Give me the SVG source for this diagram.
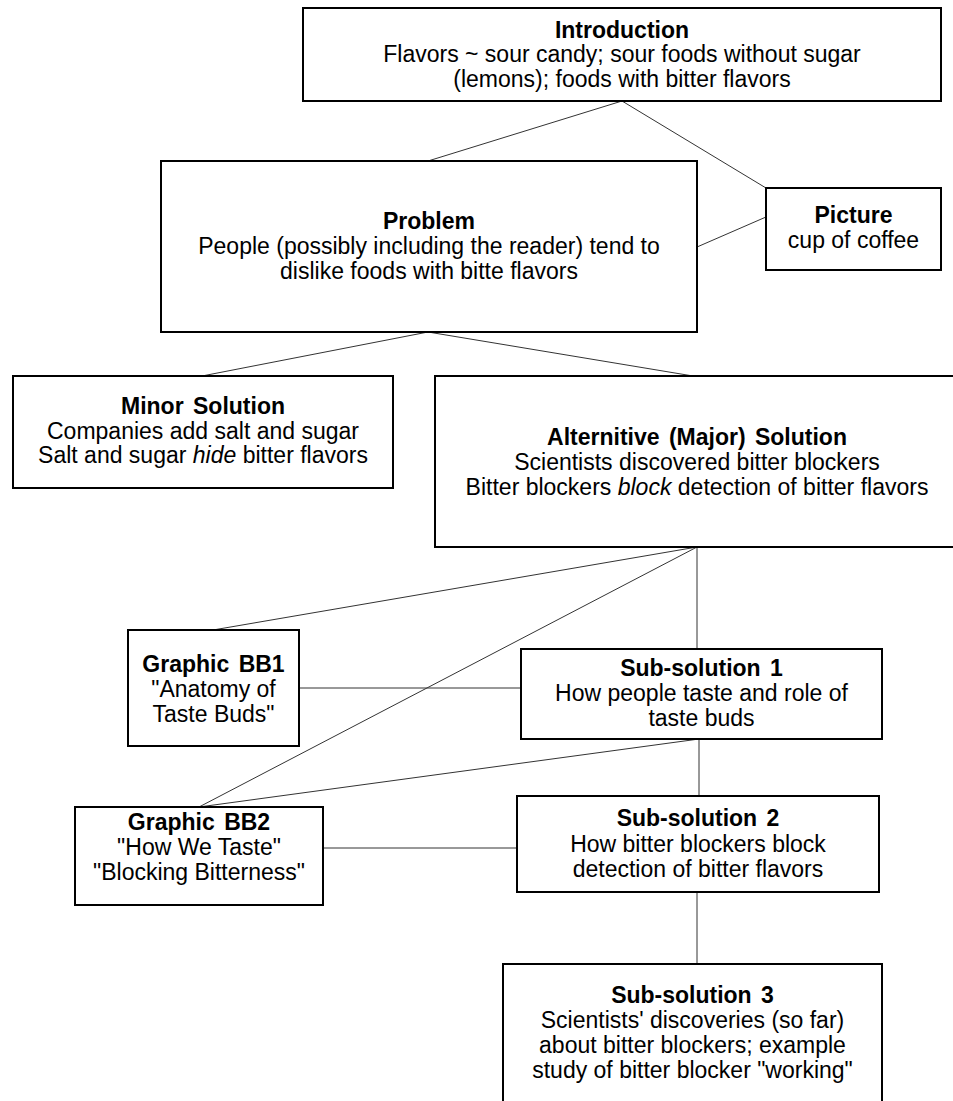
<svg xmlns="http://www.w3.org/2000/svg" width="953" height="1101" viewBox="0 0 953 1101">
  <style>
    .box { fill: #ffffff; stroke: #000000; stroke-width: 2; }
    .t { font-family: "Liberation Sans", Arial, sans-serif; font-size: 23px; fill: #000000; text-anchor: middle; }
    .h { font-weight: bold; word-spacing: 3px; }
    .em { font-style: italic; }
    .link { stroke: #333333; stroke-width: 1; fill: none; }
  </style>
  <rect width="953" height="1101" fill="#ffffff"/>

  <!-- connectors -->
  <g id="connectors">
    <line class="link" x1="622" y1="101" x2="428" y2="161"/>
    <line class="link" x1="622" y1="101" x2="766" y2="188"/>
    <line class="link" x1="697" y1="247" x2="766" y2="217"/>
    <line class="link" x1="428" y1="332" x2="202" y2="376"/>
    <line class="link" x1="428" y1="332" x2="693" y2="376"/>
    <line class="link" x1="697" y1="547" x2="213" y2="630"/>
    <line class="link" x1="697" y1="547" x2="199" y2="807"/>
    <line class="link" x1="697" y1="547" x2="697" y2="649"/>
    <line class="link" x1="299" y1="688" x2="521" y2="688"/>
    <line class="link" x1="699" y1="739" x2="199" y2="807"/>
    <line class="link" x1="699" y1="739" x2="699" y2="796"/>
    <line class="link" x1="323" y1="848" x2="517" y2="848"/>
    <line class="link" x1="697" y1="892" x2="697" y2="964"/>
  </g>

  <g id="introduction">
    <rect class="box" x="303" y="8" width="638" height="93"/>
    <text class="t h" x="622" y="38">Introduction</text>
    <text class="t" x="622" y="62">Flavors ~ sour candy; sour foods without sugar</text>
    <text class="t" x="622" y="87">(lemons); foods with bitter flavors</text>
  </g>

  <g id="problem">
    <rect class="box" x="161" y="161" width="536" height="171"/>
    <text class="t h" x="429" y="229">Problem</text>
    <text class="t" x="429" y="254">People (possibly including the reader) tend to</text>
    <text class="t" x="429" y="279">dislike foods with bitte flavors</text>
  </g>

  <g id="picture">
    <rect class="box" x="766" y="188" width="175" height="82"/>
    <text class="t h" x="853.5" y="223">Picture</text>
    <text class="t" x="853.5" y="248">cup of coffee</text>
  </g>

  <g id="minor-solution">
    <rect class="box" x="13" y="376" width="380" height="112"/>
    <text class="t h" x="203" y="414">Minor Solution</text>
    <text class="t" x="203" y="439">Companies add salt and sugar</text>
    <text class="t" x="203" y="463">Salt and sugar <tspan class="em">hide</tspan> bitter flavors</text>
  </g>

  <g id="major-solution">
    <rect class="box" x="435" y="376" width="530" height="171"/>
    <text class="t h" x="697" y="445">Alternitive (Major) Solution</text>
    <text class="t" x="697" y="470">Scientists discovered bitter blockers</text>
    <text class="t" x="697" y="495">Bitter blockers <tspan class="em">block</tspan> detection of bitter flavors</text>
  </g>

  <g id="graphic-bb1">
    <rect class="box" x="128" y="630" width="171" height="116"/>
    <text class="t h" x="213.5" y="672">Graphic BB1</text>
    <text class="t" x="213.5" y="697">"Anatomy of</text>
    <text class="t" x="213.5" y="722">Taste Buds"</text>
  </g>

  <g id="sub-solution-1">
    <rect class="box" x="521" y="649" width="361" height="90"/>
    <text class="t h" x="701.5" y="676">Sub-solution 1</text>
    <text class="t" x="701.5" y="701">How people taste and role of</text>
    <text class="t" x="701.5" y="726">taste buds</text>
  </g>

  <g id="graphic-bb2">
    <rect class="box" x="75" y="807" width="248" height="98"/>
    <text class="t h" x="199" y="830">Graphic BB2</text>
    <text class="t" x="199" y="855">"How We Taste"</text>
    <text class="t" x="199" y="880">"Blocking Bitterness"</text>
  </g>

  <g id="sub-solution-2">
    <rect class="box" x="517" y="796" width="362" height="96"/>
    <text class="t h" x="698" y="826">Sub-solution 2</text>
    <text class="t" x="698" y="852">How bitter blockers block</text>
    <text class="t" x="698" y="877">detection of bitter flavors</text>
  </g>

  <g id="sub-solution-3">
    <rect class="box" x="503" y="964" width="379" height="150"/>
    <text class="t h" x="692.5" y="1003">Sub-solution 3</text>
    <text class="t" x="692.5" y="1028">Scientists' discoveries (so far)</text>
    <text class="t" x="692.5" y="1053">about bitter blockers; example</text>
    <text class="t" x="692.5" y="1078">study of bitter blocker "working"</text>
  </g>
</svg>
